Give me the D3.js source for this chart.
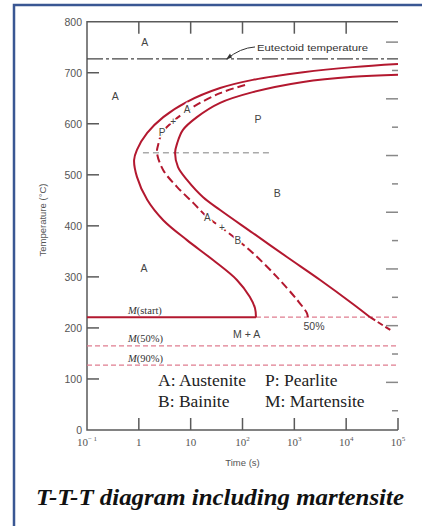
<!DOCTYPE html>
<html>
<head>
<meta charset="utf-8">
<script src="https://cdn.jsdelivr.net/npm/d3@7"></script>
<style>
  body { margin: 0; background: #fff; }
  svg { display: block; }
</style>
</head>
<body>
<div id="chart"></div>
<script>
var width  = 422;
var height = 526;

// Plot box (pixels)
var m = { left: 87, right: 398, top: 21.7, bottom: 430 };

// Axis values
var timeTicks = [0.1, 1, 10, 100, 1000, 10000, 100000];
var timeExp   = ["-1", "", "", "2", "3", "4", "5"];
var tempTicks = [0, 100, 200, 300, 400, 500, 600, 700, 800];
var fahrTicks = [100, 200, 300, 400, 500, 600, 700, 800, 900, 1000, 1100, 1200, 1300, 1400];

// Curves: [time (s), temperature (C)]
var startCurve = [
  [100000, 717], [13500, 711], [1480, 701], [158, 686], [37, 670], [8.5, 643],
  [2.96, 613], [1.45, 582], [0.92, 549], [0.81, 529], [0.92, 496], [1.45, 451],
  [2.96, 411], [8.5, 372], [27, 333], [78, 294], [138, 261], [174, 239],
  [182, 221]
];
var midCurve = [
  [112, 676], [37, 660], [11.2, 633], [4.6, 605], [2.8, 582], [2.35, 558],
  [2.24, 543], [2.96, 509], [5.5, 476], [11.2, 445], [21, 417], [40, 396],
  [81, 372], [158, 347], [460, 300], [1130, 255], [1750, 229], [1820, 221]
];
var finishCurve = [
  [100000, 696], [13500, 692], [1480, 682], [158, 662], [37, 641], [13.2, 613],
  [7.1, 588], [5.5, 562], [5.0, 543], [5.7, 515], [8.5, 490], [17.4, 456],
  [37, 431], [158, 386], [720, 339], [3150, 294], [13500, 247], [29000, 221]
];
var finishTail = [[29000, 221], [71000, 196]];

var eutectoidTemp = 727;
var noseTemp = 543;
var noseTimes = [1.2, 380];
var msTemp = 221, msEndTime = 182;
var m50Temp = 165;
var m90Temp = 127;

// Phase labels: [time, temp, text]
var regionLabels = [
  [1.3, 760, "A"], [0.35, 653, "A"], [200, 609, "P"], [470, 464, "B"],
  [1.26, 317, "A"], [120, 188, "M + A"], [2400, 202, "50%"]
];
var curveLabels = [
  [2.8, 582, "P"], [4.6, 605, "+"], [8.5, 627, "A"],
  [21, 417, "A"], [40, 396, "+"], [81, 372, "B"]
];
var legendRows = [
  ["A: Austenite", "P: Pearlite"],
  ["B: Bainite", "M: Martensite"]
];

var red = "#b3182f";
var pink = "#e07d90";
var axisGray = "#5a5a5a";
var serif = "'Liberation Serif', 'Times New Roman', serif";

var x = d3.scaleLog().domain([0.1, 100000]).range([m.left, m.right]);
var y = d3.scaleLinear().domain([0, 800]).range([m.bottom, m.top]);
// Fahrenheit ticks on the right side
var yF = function(f) { return y((f - 32) * 5 / 9); };

var line = d3.line()
  .x(function(d) { return x(d[0]); })
  .y(function(d) { return y(d[1]); })
  .curve(d3.curveCatmullRom.alpha(0.5));

var svg = d3.select("#chart").append("svg")
  .attr("width", width)
  .attr("height", height)
  .style("font-family", "'Liberation Sans', Arial, sans-serif");

// blue frame
svg.append("path")
  .attr("d", "M14,526 V5 H422")
  .attr("fill", "none")
  .attr("stroke", "#3a5793")
  .attr("stroke-width", 2.5);

// axes lines (left, bottom, top)
svg.append("path")
  .attr("d", "M" + m.right + "," + m.top + " H" + m.left + " V" + m.bottom + " H" + m.right)
  .attr("fill", "none")
  .attr("stroke", axisGray)
  .attr("stroke-width", 1.5);

// bottom ticks point up, top ticks point down
svg.selectAll(".xtick")
  .data(timeTicks.slice(1))
  .enter().append("line")
  .attr("x1", function(d) { return x(d); })
  .attr("x2", function(d) { return x(d); })
  .attr("y1", m.bottom)
  .attr("y2", m.bottom - 12)
  .attr("stroke", axisGray)
  .attr("stroke-width", 1.5);

svg.selectAll(".ttick")
  .data(timeTicks.slice(1, -1))
  .enter().append("line")
  .attr("x1", function(d) { return x(d); })
  .attr("x2", function(d) { return x(d); })
  .attr("y1", m.top)
  .attr("y2", m.top + 12)
  .attr("stroke", axisGray)
  .attr("stroke-width", 1.5);

svg.selectAll(".ytick")
  .data(tempTicks.slice(1, -1))
  .enter().append("line")
  .attr("x1", m.left)
  .attr("x2", m.left + 12)
  .attr("y1", function(d) { return y(d); })
  .attr("y2", function(d) { return y(d); })
  .attr("stroke", axisGray)
  .attr("stroke-width", 1.5);

// right side F ticks, long every 200
svg.selectAll(".ftick")
  .data(fahrTicks)
  .enter().append("line")
  .attr("x1", function(d) { return d % 200 == 0 ? m.right - 12 : m.right - 6; })
  .attr("x2", m.right)
  .attr("y1", function(d) { return yF(d); })
  .attr("y2", function(d) { return yF(d); })
  .attr("stroke", "#888")
  .attr("stroke-width", 1.5);

// tick labels
svg.selectAll(".ylab")
  .data(tempTicks)
  .enter().append("text")
  .attr("x", 82)
  .attr("y", function(d) { return y(d) + 4; })
  .attr("text-anchor", "end")
  .attr("font-size", 10.5)
  .attr("fill", "#555")
  .text(function(d) { return d; });

var xl = svg.selectAll(".xlab")
  .data(timeTicks)
  .enter().append("text")
  .attr("x", function(d) { return x(d); })
  .attr("y", 446)
  .attr("text-anchor", "middle")
  .attr("font-family", serif)
  .attr("font-size", 11)
  .attr("fill", "#555");
xl.append("tspan").text(function(d, i) { return d < 1 || d > 10 ? "10" : String(d); });
xl.append("tspan")
  .attr("dy", -5)
  .attr("font-size", 7)
  .text(function(d, i) { return timeExp[i] == "-1" ? "\u2212 1" : timeExp[i]; });

svg.append("text")
  .attr("x", x(100))
  .attr("y", 466)
  .attr("text-anchor", "middle")
  .attr("font-size", 9.5)
  .attr("fill", "#555")
  .text("Time (s)");

svg.append("text")
  .attr("transform", "translate(46," + 220 + ") rotate(-90)")
  .attr("text-anchor", "middle")
  .attr("font-size", 9.5)
  .attr("fill", "#555")
  .text("Temperature (\u00b0C)");

// eutectoid line
svg.append("line")
  .attr("x1", m.left).attr("x2", m.right)
  .attr("y1", y(eutectoidTemp)).attr("y2", y(eutectoidTemp))
  .attr("stroke", "#444")
  .attr("stroke-width", 1.2)
  .attr("stroke-dasharray", "16,3,3,3");

svg.append("text")
  .attr("x", 257)
  .attr("y", y(eutectoidTemp) - 8)
  .attr("font-size", 9.5)
  .attr("fill", "#333")
  .attr("textLength", 111)
  .attr("lengthAdjust", "spacingAndGlyphs")
  .text("Eutectoid temperature");

svg.append("path")
  .attr("d", "M255," + (y(eutectoidTemp) - 12) +
             " Q240," + (y(eutectoidTemp) - 11) + " 227," + y(eutectoidTemp))
  .attr("fill", "none")
  .attr("stroke", "#333")
  .attr("stroke-width", 1);
svg.append("path")
  .attr("d", "M226," + (y(eutectoidTemp) + 0.5) + " l4,-6 l2,4 z")
  .attr("fill", "#333");

// nose line
svg.append("line")
  .attr("x1", x(noseTimes[0])).attr("x2", x(noseTimes[1]))
  .attr("y1", y(noseTemp)).attr("y2", y(noseTemp))
  .attr("stroke", "#aaa")
  .attr("stroke-width", 1.5)
  .attr("stroke-dasharray", "6,4");

// martensite lines
svg.append("line")
  .attr("x1", m.left).attr("x2", x(msEndTime))
  .attr("y1", y(msTemp)).attr("y2", y(msTemp))
  .attr("stroke", red).attr("stroke-width", 2);
svg.append("line")
  .attr("x1", x(msEndTime)).attr("x2", m.right)
  .attr("y1", y(msTemp)).attr("y2", y(msTemp))
  .attr("stroke", pink).attr("stroke-width", 1.3)
  .attr("stroke-dasharray", "5,3");
[m50Temp, m90Temp].forEach(function(t) {
  svg.append("line")
    .attr("x1", m.left).attr("x2", m.right)
    .attr("y1", y(t)).attr("y2", y(t))
    .attr("stroke", pink).attr("stroke-width", 1.3)
    .attr("stroke-dasharray", "5,3");
});

// curves
svg.append("path").datum(startCurve)
  .attr("d", line).attr("fill", "none")
  .attr("stroke", red).attr("stroke-width", 2);
svg.append("path").datum(finishCurve)
  .attr("d", line).attr("fill", "none")
  .attr("stroke", red).attr("stroke-width", 2);
svg.append("path").datum(finishTail)
  .attr("d", line).attr("fill", "none")
  .attr("stroke", red).attr("stroke-width", 2)
  .attr("stroke-dasharray", "6,3");
svg.append("path").datum(midCurve)
  .attr("d", line).attr("fill", "none")
  .attr("stroke", red).attr("stroke-width", 2)
  .attr("stroke-dasharray", "8,4");

// labels sitting on the 50% curve, white halo breaks the dashes
svg.selectAll(".clab")
  .data(curveLabels)
  .enter().append("text")
  .attr("x", function(d) { return x(d[0]); })
  .attr("y", function(d) { return y(d[1]) + 3.5; })
  .attr("text-anchor", "middle")
  .attr("font-size", 10)
  .attr("fill", "#444")
  .attr("stroke", "#fff")
  .attr("stroke-width", 3)
  .attr("paint-order", "stroke")
  .text(function(d) { return d[2]; });

svg.selectAll(".rlab")
  .data(regionLabels)
  .enter().append("text")
  .attr("x", function(d) { return x(d[0]); })
  .attr("y", function(d) { return y(d[1]) + 3.5; })
  .attr("text-anchor", "middle")
  .attr("font-size", 10.5)
  .attr("fill", "#444")
  .text(function(d) { return d[2]; });

// M labels
var mLabels = [[msTemp, "(start)"], [m50Temp, "(50%)"], [m90Temp, "(90%)"]];
var ml = svg.selectAll(".mlab")
  .data(mLabels)
  .enter().append("text")
  .attr("x", 128)
  .attr("y", function(d) { return y(d[0]) - 3.5; })
  .attr("font-family", serif)
  .attr("font-size", 10.5)
  .attr("fill", "#333");
ml.append("tspan").attr("font-style", "italic").text("M");
ml.append("tspan").text(function(d) { return d[1]; });

// legend
legendRows.forEach(function(row, i) {
  row.forEach(function(txt, j) {
    svg.append("text")
      .attr("x", j == 0 ? 158 : 265)
      .attr("y", 386 + i * 21)
      .attr("font-family", serif)
      .attr("font-size", 17.5)
      .attr("fill", "#222")
      .text(txt);
  });
});

// title
svg.append("text")
  .attr("x", 36)
  .attr("y", 505)
  .attr("font-family", serif)
  .attr("font-size", 23)
  .attr("font-weight", "bold")
  .attr("font-style", "italic")
  .attr("fill", "#111")
  .attr("textLength", 368)
  .attr("lengthAdjust", "spacingAndGlyphs")
  .text("T-T-T diagram including martensite");
</script>
</body>
</html>
